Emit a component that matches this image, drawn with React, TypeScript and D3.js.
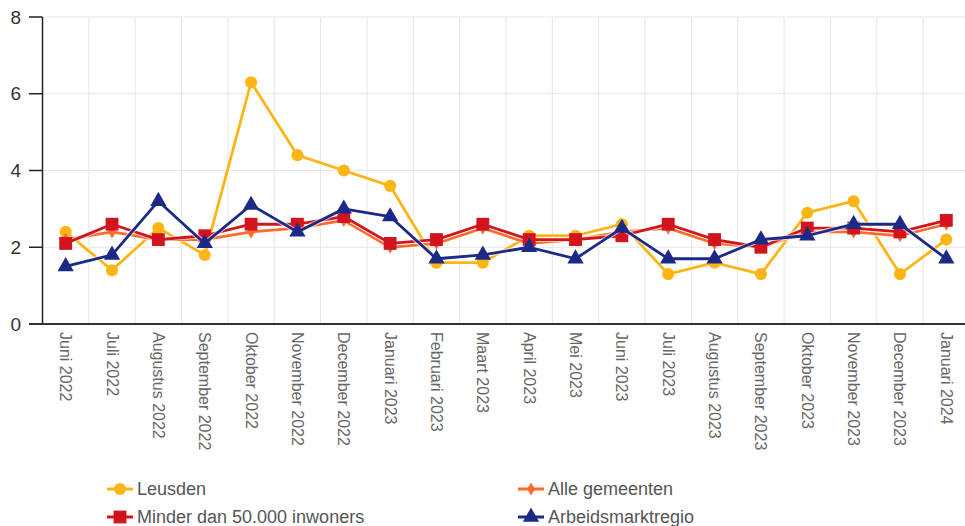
import React from "react";
import * as d3 from "d3";

const categories = [
  "Juni 2022", "Juli 2022", "Augustus 2022", "September 2022", "Oktober 2022",
  "November 2022", "December 2022", "Januari 2023", "Februari 2023", "Maart 2023",
  "April 2023", "Mei 2023", "Juni 2023", "Juli 2023", "Augustus 2023",
  "September 2023", "Oktober 2023", "November 2023", "December 2023", "Januari 2024",
];

const leusden = [2.4, 1.4, 2.5, 1.8, 6.3, 4.4, 4.0, 3.6, 1.6, 1.6, 2.3, 2.3, 2.6, 1.3, 1.6, 1.3, 2.9, 3.2, 1.3, 2.2];
const alleGemeenten = [2.2, 2.4, 2.2, 2.2, 2.4, 2.5, 2.7, 2.0, 2.1, 2.5, 2.1, 2.2, 2.4, 2.5, 2.1, 2.0, 2.4, 2.4, 2.3, 2.6];
const minder50k = [2.1, 2.6, 2.2, 2.3, 2.6, 2.6, 2.8, 2.1, 2.2, 2.6, 2.2, 2.2, 2.3, 2.6, 2.2, 2.0, 2.5, 2.5, 2.4, 2.7];
const arbeidsmarkt = [1.5, 1.8, 3.2, 2.1, 3.1, 2.4, 3.0, 2.8, 1.7, 1.8, 2.0, 1.7, 2.5, 1.7, 1.7, 2.2, 2.3, 2.6, 2.6, 1.7];

const yTicks = [0, 2, 4, 6, 8];

type Series = { name: string; values: number[]; color: string; symbol: d3.SymbolType; size: number };

const series: Series[] = [
  { name: "Leusden", values: leusden, color: "#FDB515", symbol: d3.symbolCircle, size: 115 },
  { name: "Alle gemeenten", values: alleGemeenten, color: "#FF6A2A", symbol: d3.symbolDiamond, size: 50 },
  { name: "Minder dan 50.000 inwoners", values: minder50k, color: "#D2141E", symbol: d3.symbolSquare, size: 165 },
  { name: "Arbeidsmarktregio", values: arbeidsmarkt, color: "#1C2A86", symbol: d3.symbolTriangle, size: 115 },
];

const W = 965;
const H = 526;
const left = 42.5;
const right = 969.5;
const top = 17;
const bottom = 324;

export default function App() {
  const x = d3.scaleBand<string>().domain(categories).range([left, right]).padding(0);
  const y = d3.scaleLinear().domain([0, 8]).range([bottom, top]);
  const cx = (c: string) => (x(c) ?? 0) + x.bandwidth() / 2;

  const line = d3
    .line<number>()
    .x((_, i) => cx(categories[i]))
    .y((v) => y(v));

  const font = "Arial, 'Liberation Sans', Helvetica, sans-serif";

  const legendPos = [
    { x: 120, y: 489 },
    { x: 531, y: 489 },
    { x: 120, y: 517 },
    { x: 531, y: 517 },
  ];

  return (
    <svg
      width={W}
      height={H}
      style={{ position: "absolute", left: 0, top: 0, background: "#fff" }}
      fontFamily={font}
    >
      {/* vertical grid */}
      {categories.map((c, i) => (
        <line key={"vg" + i} x1={(x(c) ?? 0) + x.bandwidth()} x2={(x(c) ?? 0) + x.bandwidth()} y1={top} y2={bottom} stroke="#e6e6e6" strokeWidth={1} />
      ))}
      {/* horizontal grid */}
      {yTicks.filter((t) => t > 0).map((t) => (
        <line key={"hg" + t} x1={left} x2={W} y1={y(t)} y2={y(t)} stroke="#e6e6e6" strokeWidth={1} />
      ))}
      {/* y axis */}
      <line x1={left} x2={left} y1={top} y2={bottom} stroke="#222" strokeWidth={1.5} />
      {yTicks.map((t) => (
        <g key={"yt" + t}>
          <line x1={29} x2={left} y1={y(t)} y2={y(t)} stroke="#222" strokeWidth={1.5} />
          <text x={21} y={y(t)} textAnchor="end" dominantBaseline="central" fontSize={19} fill="#333">
            {t}
          </text>
        </g>
      ))}
      {/* x axis */}
      <line x1={29} x2={W} y1={bottom} y2={bottom} stroke="#333" strokeWidth={2} />
      {categories.map((c) => (
        <text
          key={"xl" + c}
          transform={`translate(${cx(c)},${bottom + 8}) rotate(90)`}
          textAnchor="start"
          dominantBaseline="central"
          fontSize={16}
          fill="#666"
        >
          {c}
        </text>
      ))}
      {/* series */}
      {series.map((s) => (
        <g key={s.name}>
          <path d={line(s.values) ?? ""} fill="none" stroke="#fff" strokeOpacity={0.6} strokeWidth={5} strokeLinejoin="round" />
          <path d={line(s.values) ?? ""} fill="none" stroke={s.color} strokeWidth={2.8} strokeLinejoin="round" />
          {s.values.map((v, i) => (
            <path
              key={i}
              d={d3.symbol().type(s.symbol).size(s.size)() ?? ""}
              transform={`translate(${cx(categories[i])},${y(v)})`}
              fill={s.color}
            />
          ))}
        </g>
      ))}
      {/* legend */}
      {series.map((s, i) => (
        <g key={"lg" + s.name} transform={`translate(${legendPos[i].x},${legendPos[i].y})`}>
          <line x1={-13} x2={13} y1={0} y2={0} stroke={s.color} strokeWidth={3} />
          <path d={d3.symbol().type(s.symbol).size(s.size)() ?? ""} fill={s.color} />
          <text x={17} y={0} dominantBaseline="central" fontSize={18} fill="#555">
            {s.name}
          </text>
        </g>
      ))}
    </svg>
  );
}
